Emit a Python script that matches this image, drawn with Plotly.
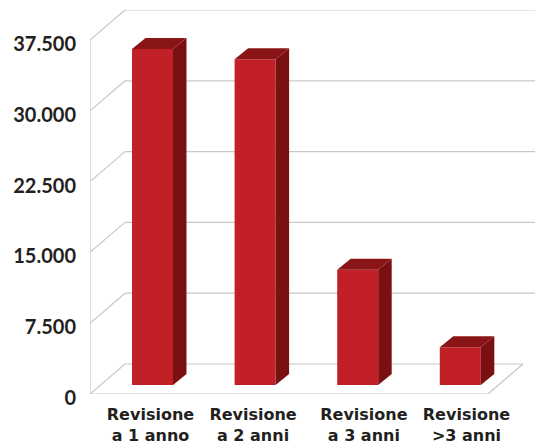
import plotly.graph_objects as go

categories = ["Revisione<br>a 1 anno", "Revisione<br>a 2 anni", "Revisione<br>a 3 anni", "Revisione<br>>3 anni"]
values = [35600, 34500, 12200, 4000]
tick_values = [0, 7500, 15000, 22500, 30000, 37500]
tick_labels = ["0", "7.500", "15.000", "22.500", "30.000", "37.500"]
label_nudge = [-0.02, -0.02, 0.06, 0.06]

W, H = 535, 446
L, B, T = 90, 52, 10
PX_X = 102.6          # pixels per category
PX_Y = 70.8 / 7500    # pixels per value unit
FIRST = 152.5         # pixel centre of first bar


def px_dx(p):
    return p / PX_X


def px_dv(p):
    return p / PX_Y


x_min = (L - FIRST) / PX_X
x_max = (W - FIRST) / PX_X
y_max = (H - B - T) / PX_Y
bar_w = 41 / PX_X
wall_dx, wall_dv = px_dx(35), px_dv(30)
floor_x_end = x_min + px_dx(398)
bar_base = px_dv(9)
depth_dx, depth_dv = px_dx(13.5), px_dv(11)

RED, SIDE, TOP = "#c12026", "#7a1011", "#8a1517"
GRID = "#c8c8c8"

fig = go.Figure()
fig.add_trace(go.Bar(x=list(range(len(values))), y=values, base=bar_base, width=bar_w,
                     marker=dict(color=RED, line=dict(width=0)), showlegend=False))
for i, v in enumerate(values):
    xl, xr = i - bar_w / 2, i + bar_w / 2
    y0, y1 = bar_base, bar_base + v
    fig.add_trace(go.Scatter(x=[xr, xr + depth_dx, xr + depth_dx, xr, xr],
                             y=[y0, y0 + depth_dv, y1 + depth_dv, y1, y0],
                             mode="lines", fill="toself", fillcolor=SIDE,
                             line=dict(width=0, color=SIDE), showlegend=False))
    fig.add_trace(go.Scatter(x=[xl, xl + depth_dx, xr + depth_dx, xr, xl],
                             y=[y1, y1 + depth_dv, y1 + depth_dv, y1, y1],
                             mode="lines", fill="toself", fillcolor=TOP,
                             line=dict(width=0, color=TOP), showlegend=False))

shapes = []


def seg(x0, y0, x1, y1, color=GRID, width=1.2):
    shapes.append(dict(type="line", xref="x", yref="y", x0=x0, y0=y0, x1=x1, y1=y1,
                       layer="below", line=dict(color=color, width=width)))


for t in tick_values:
    seg(x_min, t, x_min + wall_dx, t + wall_dv)
    seg(x_min + wall_dx, t + wall_dv, floor_x_end + wall_dx if t == 0 else x_max, t + wall_dv)
seg(x_min, 0, x_min, tick_values[-1])
seg(x_min, 0, floor_x_end, 0)
seg(floor_x_end, 0, floor_x_end + wall_dx, wall_dv)

font_y = dict(family="Lato", size=20, color="#231f20", weight=700)
font_x = dict(family="DejaVu Sans", size=16, color="#231f20", weight=700)

fig.update_layout(
    width=W, height=H, autosize=False, margin=dict(l=L, r=0, t=T, b=B, pad=0, autoexpand=False),
    paper_bgcolor="white", plot_bgcolor="white", shapes=shapes, showlegend=False,
    xaxis=dict(range=[x_min, x_max], tickmode="array", automargin=False,
               tickvals=[i + n for i, n in enumerate(label_nudge)], ticktext=categories,
               tickfont=font_x, tickangle=0, ticks="outside", ticklen=6,
               tickcolor="rgba(0,0,0,0)",
               showgrid=False, zeroline=False, showline=False),
    yaxis=dict(range=[0, y_max], tickmode="array", tickvals=tick_values, ticktext=tick_labels,
               showgrid=False, zeroline=False, showline=False, tickfont=font_y, automargin=False,
               ticklabelshift=4,
               ticks="outside", ticklen=9, tickcolor="rgba(0,0,0,0)"),
)
fig.write_html("out.html", config={"displayModeBar": False},
               post_script="document.body.style.margin='0';")
